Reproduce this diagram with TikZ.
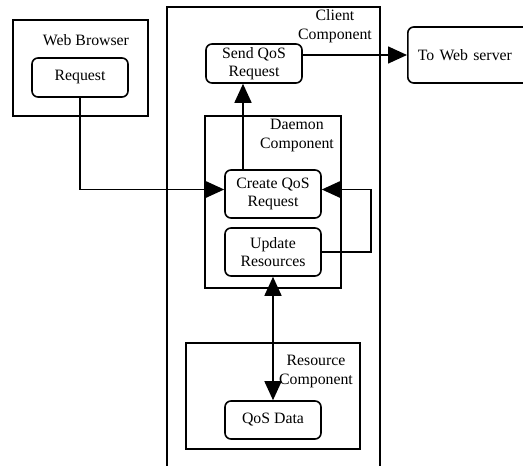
\documentclass[tikz,border=0pt]{standalone}
\usepackage{fontspec}
\setmainfont{Liberation Serif}
\usetikzlibrary{arrows.meta, positioning, calc}
\tikzset{
  box/.style    = {draw, line width=1.6pt, rounded corners=6pt, minimum width=96pt,
                   align=center, inner sep=2pt},
  frame/.style  = {draw, line width=1.3pt},
  title/.style  = {align=center, inner sep=0pt},
  arrow/.style  = {-{Triangle[length=19pt, width=17pt]}, line width=1.6pt},
  darrow/.style = {{Triangle[length=19pt, width=17pt]}-{Triangle[length=19pt, width=17pt]}, line width=1.6pt},
}

\begin{document}
\begin{tikzpicture}[x=1pt, y=-1pt, font=\fontsize{15.8}{18.5}\selectfont]
  \useasboundingbox (0,0) rectangle (523,466);
  % component frames
  \draw[frame] (13,20) rectangle (148,116);
  \draw[line width=1.6pt] (167,470) -- (167,7) -- (380,7) -- (380,470);
  \draw[frame] (205,116) rectangle (341,288);
  \draw[frame] (186,343) rectangle (360,449);
  \node[title] (browsertitle) at (86,40) {Web Browser};
  \node[title] (clienttitle) at (335,26) {Client\\Component};
  \node[title] (daemontitle) at (297,135.5) {Daemon\\Component};
  \node[title] (resourcetitle) at (316,371.5) {Resource\\Component};
  % inner boxes
  \node[box, minimum height=39pt] (request) at (80,77.5) {Request};
  \node[box, minimum height=39pt] (sendqos) at (254,63.5) {Send QoS\\Request};
  \node[box, minimum height=56pt, anchor=west, text width=108pt, align=left,
        inner xsep=10pt] (webserver) at (407,55) {To Web server};
  \node[box, minimum height=48pt] (create) at (273,194) {Create QoS\\Request};
  \node[box, minimum height=48pt] (update) at (273,252) {Update\\Resources};
  \node[box, minimum height=38pt] (qosdata) at (273,420) {QoS Data};
  % connectors
  \draw[arrow] (request.south) |- ([yshift=4.5pt]create.west);
  \draw[arrow] ([xshift=-30pt]create.north) -- ([xshift=-30pt]create.north |- sendqos.south);
  \draw[arrow] (sendqos.east |- webserver.west) -- (webserver.west);
  \draw[arrow] (update.east) -- ++(49,0) |- ([yshift=4.5pt]create.east);
  \draw[darrow] (update.south) -- (qosdata.north);
\end{tikzpicture}
\end{document}
